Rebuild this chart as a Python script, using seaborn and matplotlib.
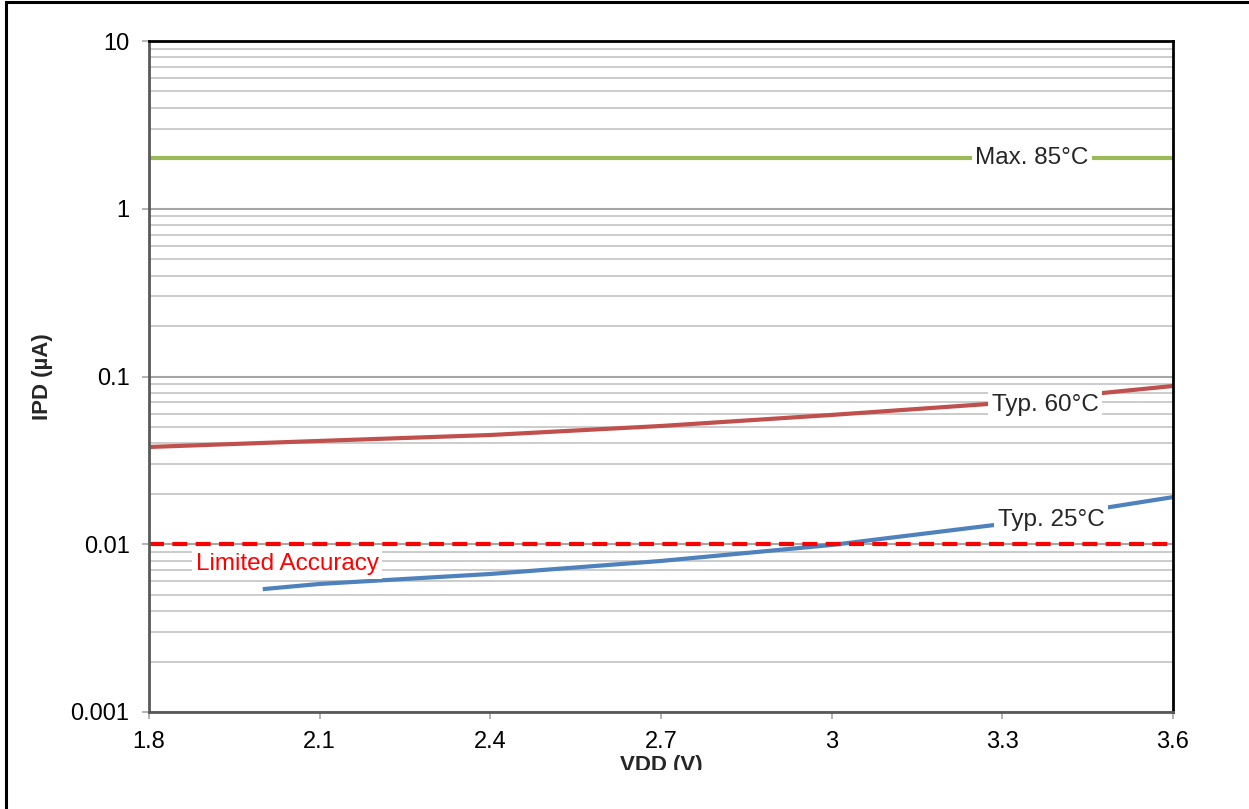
import numpy as np
import pandas as pd
import seaborn as sns
import matplotlib.pyplot as plt
from matplotlib.patches import Rectangle
from matplotlib.ticker import LogLocator, FixedLocator, NullFormatter
from matplotlib.transforms import Bbox, TransformedBbox

# values
vdd_60 = [1.8, 2.1, 2.4, 2.7, 3.0, 3.3, 3.6]
ipd_60 = [0.038, 0.0413, 0.0448, 0.0507, 0.059, 0.0695, 0.0878]
vdd_25 = [2.0, 2.1, 2.4, 2.7, 3.0, 3.3, 3.6]
ipd_25 = [0.0054, 0.0058, 0.00665, 0.00795, 0.0099, 0.0132, 0.0191]
vdd_lim = [1.8, 3.6]
ipd_max85 = [2.0, 2.0]
ipd_limit = [0.01, 0.01]
x_ticks = [1.8, 2.1, 2.4, 2.7, 3.0, 3.3, 3.6]
x_ticklabels = ["1.8", "2.1", "2.4", "2.7", "3", "3.3", "3.6"]
y_ticks = [0.001, 0.01, 0.1, 1, 10]
y_ticklabels = ["0.001", "0.01", "0.1", "1", "10"]

sns.set_theme(style="white")
plt.rcParams['font.family'] = ['Liberation Sans', 'DejaVu Sans']

fig = plt.figure(figsize=(12.49, 8.09), dpi=100)
ax = fig.add_axes([149 / 1249, 97 / 809, 1024 / 1249, 671 / 809])

c_green = "#9BBB59"
c_red = "#C0504D"
c_blue = "#4F81BD"

sns.lineplot(x=vdd_lim, y=ipd_max85, color=c_green, lw=3, ax=ax)
sns.lineplot(x=vdd_60, y=ipd_60, color=c_red, lw=3, ax=ax)
sns.lineplot(x=vdd_25, y=ipd_25, color=c_blue, lw=3, ax=ax)
sns.lineplot(x=vdd_lim, y=ipd_limit, color="#FF0000", lw=3, ax=ax)
ax.lines[-1].set_dashes([3.6, 2.0])
for ln in ax.lines:
    ln.set_solid_capstyle("butt")
    ln.set_clip_on(False)

ax.set_yscale("log")
ax.set_xlim(1.8, 3.6)
ax.set_ylim(0.001, 10)

ax.xaxis.set_major_locator(FixedLocator(x_ticks))
ax.set_xticklabels(x_ticklabels)
ax.yaxis.set_major_locator(FixedLocator(y_ticks))
ax.set_yticklabels(y_ticklabels)
ax.yaxis.set_minor_locator(LogLocator(base=10, subs=np.arange(2, 10)))
ax.yaxis.set_minor_formatter(NullFormatter())

ax.grid(False)
ax.grid(True, which="major", axis="y", color="#A6A6A6", lw=1.5)
ax.grid(True, which="minor", axis="y", color="#C8C8C8", lw=1.3)
ax.set_axisbelow(True)

ax.tick_params(axis="both", which="major", direction="out", length=5,
               width=1.2, color="#A6A6A6", labelsize=17, pad=9,
               labelcolor="black", bottom=True, left=True)
ax.tick_params(axis="y", which="minor", length=0)

for side in ["left", "bottom"]:
    ax.spines[side].set_color("#595959")
    ax.spines[side].set_linewidth(2)
for side in ["top", "right"]:
    ax.spines[side].set_color("black")
    ax.spines[side].set_linewidth(2)

ax.set_ylabel("IPD (µA)", fontsize=16, fontweight="bold")
ax.yaxis.set_label_coords(-0.094, 0.5)
xl = ax.set_xlabel("VDD (V)", fontsize=16, fontweight="bold")
ax.xaxis.set_label_coords(0.5, -0.064)
xl.set_clip_box(TransformedBbox(Bbox.from_extents(0, 39 / 809, 1, 1), fig.transFigure))
xl.set_clip_on(True)

box = dict(boxstyle="square,pad=0.15", fc="white", ec="none")
ax.text(3.352, 2.0, "Max. 85°C", fontsize=17.5, ha="center", va="center", bbox=box)
ax.text(3.375, 0.0676, "Typ. 60°C", fontsize=17.5, ha="center", va="center", bbox=box)
ax.text(3.386, 0.01396, "Typ. 25°C", fontsize=17.5, ha="center", va="center", bbox=box)
ax.text(2.043, 0.00762, "Limited Accuracy", fontsize=17.5, color="#FF0000",
        ha="center", va="center", bbox=box)

# outer frame of the original image (only top and left visible)
fig.patches.append(Rectangle((6 / 1249, -0.2), 1.5, 1.2 - 1.5 / 809,
                             transform=fig.transFigure, fill=False,
                             ec="black", lw=2.2, figure=fig))

fig.savefig("out.png", dpi=100)
